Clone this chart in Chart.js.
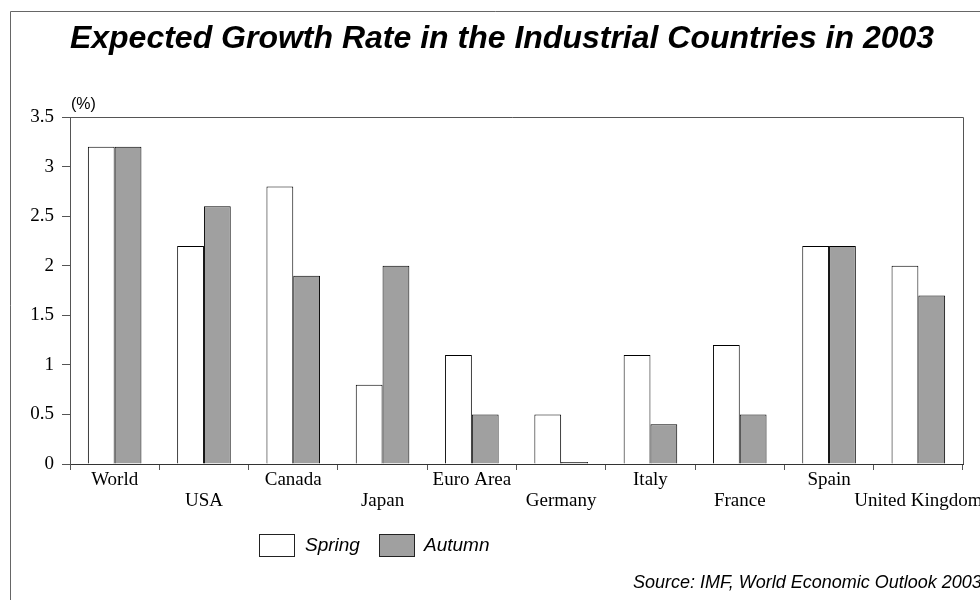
<!DOCTYPE html>
<html>
<head>
<meta charset="utf-8">
<script src="https://cdn.jsdelivr.net/npm/chart.js@4"></script>
<style>
  html, body { margin: 0; padding: 0; background: #fff; }
  #wrap { width: 980px; height: 600px; }
</style>
</head>
<body>
<div id="wrap"><canvas id="c" width="980" height="600"></canvas></div>
<script>
const categories = ['World', 'USA', 'Canada', 'Japan', 'Euro Area', 'Germany', 'Italy', 'France', 'Spain', 'United Kingdom'];
const spring = [3.2, 2.2, 2.8, 0.8, 1.1, 0.5, 1.1, 1.2, 2.2, 2.0];
const autumn = [3.2, 2.6, 1.9, 2.0, 0.5, 0.0, 0.4, 0.5, 2.2, 1.7];
const yTicks = [0, 0.5, 1, 1.5, 2, 2.5, 3, 3.5];
const titleText = 'Expected Growth Rate in the Industrial Countries in 2003';
const unitText = '(%)';
const sourceText = 'Source: IMF, World Economic Outlook 2003';

// staggered labels: odd ones on a second line
const xLabels = categories.map((c, i) => i % 2 === 0 ? c : ['', c]);

const decor = {
  id: 'decor',
  afterDraw(chart) {
    const ctx = chart.ctx;
    const a = chart.chartArea;
    ctx.save();
    // outer frame (top + left)
    ctx.strokeStyle = '#666';
    ctx.lineWidth = 1;
    ctx.beginPath();
    ctx.moveTo(10.5, 600);
    ctx.lineTo(10.5, 11.5);
    ctx.lineTo(980, 11.5);
    ctx.stroke();
    // plot box top & right
    ctx.strokeStyle = '#555';
    ctx.beginPath();
    ctx.moveTo(a.left - 8, Math.round(a.top) + 0.5);
    ctx.lineTo(Math.round(a.right) + 0.5, Math.round(a.top) + 0.5);
    ctx.lineTo(Math.round(a.right) + 0.5, a.bottom);
    ctx.stroke();
    // title
    ctx.fillStyle = '#000';
    ctx.font = 'italic bold 32px "Liberation Sans", Arial, sans-serif';
    ctx.textAlign = 'center';
    ctx.textBaseline = 'alphabetic';
    ctx.fillText(titleText, 502, 48);
    // unit
    ctx.font = '16px "Liberation Sans", Arial, sans-serif';
    ctx.textAlign = 'left';
    ctx.fillText(unitText, 71, 109);
    // legend
    const ds = chart.data.datasets;
    const items = [{x: 259, tx: 305}, {x: 379, tx: 424}];
    ctx.font = 'italic 19px "Liberation Sans", Arial, sans-serif';
    ds.forEach((d, i) => {
      const it = items[i];
      ctx.fillStyle = d.backgroundColor;
      ctx.fillRect(it.x + 0.5, 534.5, 35, 22);
      ctx.strokeStyle = '#222';
      ctx.strokeRect(it.x + 0.5, 534.5, 35, 22);
      ctx.fillStyle = '#000';
      ctx.textBaseline = 'middle';
      ctx.fillText(d.label, it.tx, 546);
    });
    // source
    ctx.font = 'italic 18px "Liberation Sans", Arial, sans-serif';
    ctx.textBaseline = 'alphabetic';
    ctx.fillText(sourceText, 633, 588);
    ctx.restore();
  }
};

new Chart(document.getElementById('c'), {
  type: 'bar',
  data: {
    labels: xLabels,
    datasets: [
      { label: 'Spring', data: spring, backgroundColor: '#ffffff', borderColor: '#000', borderWidth: 1, borderSkipped: 'start' },
      { label: 'Autumn', data: autumn, backgroundColor: '#a0a0a0', borderColor: '#000', borderWidth: 1, borderSkipped: 'start', minBarLength: 2 }
    ]
  },
  options: {
    responsive: false,
    animation: false,
    events: [],
    layout: { padding: { left: 10, right: 17, top: 117, bottom: 0 } },
    plugins: { legend: { display: false }, tooltip: { enabled: false }, title: { display: false } },
    datasets: { bar: { categoryPercentage: 0.6, barPercentage: 1.0 } },
    scales: {
      x: {
        offset: true,
        grid: { offset: true, drawOnChartArea: false, drawTicks: true, tickLength: 6, color: '#555' },
        border: { color: '#333', width: 1 },
        ticks: {
          color: '#000',
          font: { family: '"Liberation Serif", "Times New Roman", serif', size: 19, lineHeight: 1.1 },
          padding: 0,
          maxRotation: 0,
          autoSkip: false
        },
        afterFit(s) { s.height = 136; s.paddingLeft = 0; s.paddingRight = 0; }
      },
      y: {
        min: 0, max: 3.5,
        afterBuildTicks(s) { s.ticks = yTicks.map(v => ({ value: v })); },
        grid: { drawOnChartArea: false, drawTicks: true, tickLength: 8, color: '#555' },
        border: { color: '#555', width: 1 },
        ticks: {
          color: '#000',
          font: { family: '"Liberation Serif", "Times New Roman", serif', size: 19 },
          padding: 8,
          callback: v => String(v)
        },
        afterFit(s) { s.width = 60; }
      }
    }
  },
  plugins: [decor]
});
</script>
</body>
</html>
